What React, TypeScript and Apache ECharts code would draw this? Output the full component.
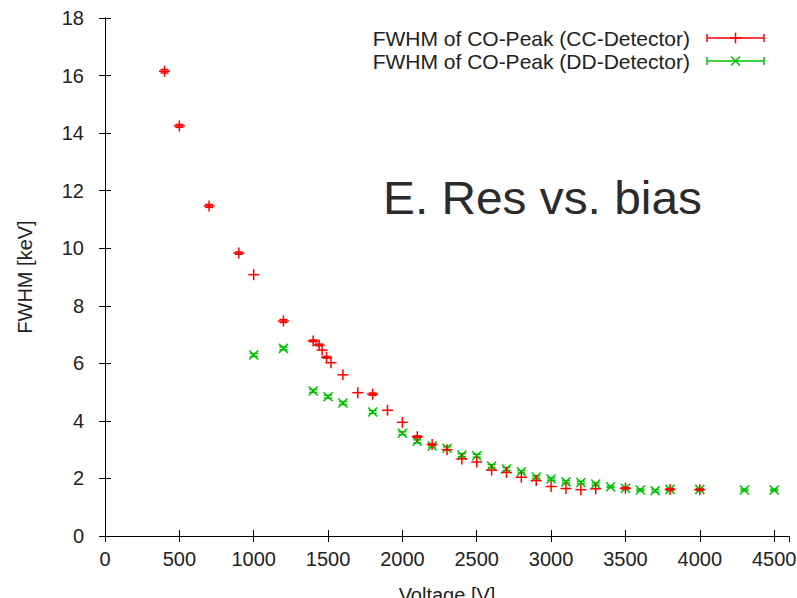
import React, { useEffect, useRef } from "react";
import * as echarts from "echarts";

const xTicks = [0, 500, 1000, 1500, 2000, 2500, 3000, 3500, 4000, 4500];
const yTicks = [0, 2, 4, 6, 8, 10, 12, 14, 16, 18];

const ccName = "FWHM of CO-Peak (CC-Detector)";
const ddName = "FWHM of CO-Peak (DD-Detector)";
const titleText = "E. Res vs. bias";

const ccVoltage = [400, 500, 700, 900, 1000, 1200, 1400, 1440, 1460, 1490, 1520, 1600, 1700, 1800, 1900, 2000, 2100, 2200, 2300, 2400, 2500, 2600, 2700, 2800, 2900, 3000, 3100, 3200, 3300, 3500, 3800, 4000];
const ccFwhm = [16.15, 14.25, 11.47, 9.83, 9.08, 7.47, 6.78, 6.64, 6.46, 6.21, 6.02, 5.6, 4.98, 4.93, 4.37, 3.95, 3.45, 3.18, 3.0, 2.68, 2.57, 2.29, 2.21, 2.04, 1.93, 1.72, 1.65, 1.61, 1.64, 1.66, 1.62, 1.61];
const ccErr = [0.06, 0.05, 0.05, 0.04, 0, 0.05, 0.03, 0.03, 0, 0.03, 0, 0, 0, 0.04, 0, 0, 0.03, 0.02, 0, 0, 0, 0, 0, 0, 0, 0, 0, 0, 0, 0.02, 0.02, 0.02];

const ddVoltage = [1000, 1200, 1400, 1500, 1600, 1800, 2000, 2100, 2200, 2300, 2400, 2500, 2600, 2700, 2800, 2900, 3000, 3100, 3200, 3300, 3400, 3500, 3600, 3700, 3800, 4000, 4300, 4500];
const ddFwhm = [6.29, 6.52, 5.04, 4.84, 4.62, 4.31, 3.57, 3.29, 3.13, 3.05, 2.81, 2.79, 2.43, 2.33, 2.23, 2.05, 1.98, 1.88, 1.86, 1.81, 1.71, 1.66, 1.6, 1.57, 1.62, 1.62, 1.6, 1.6];
const ddErr = [0.05, 0.05, 0.05, 0.05, 0.05, 0.05, 0.05, 0.05, 0.04, 0.05, 0.05, 0.05, 0.05, 0.05, 0.04, 0.04, 0.04, 0.04, 0.04, 0.04, 0.03, 0.03, 0.03, 0.04, 0.03, 0.03, 0.03, 0.03];

const RED = "#ff0000";
const GREEN = "#00c000";
const FONT = '"Liberation Sans", Arial, sans-serif';

function markerLines(shape: string, cx: number, cy: number, color: string) {
  const s = { stroke: color, lineWidth: 1.5 };
  if (shape === "plus") {
    const h = 5.5;
    return [
      { type: "line", shape: { x1: cx - h, y1: cy, x2: cx + h, y2: cy }, style: s },
      { type: "line", shape: { x1: cx, y1: cy - h, x2: cx, y2: cy + h }, style: s },
    ];
  }
  const h = 4.5;
  return [
    { type: "line", shape: { x1: cx - h, y1: cy - h, x2: cx + h, y2: cy + h }, style: s },
    { type: "line", shape: { x1: cx - h, y1: cy + h, x2: cx + h, y2: cy - h }, style: s },
  ];
}

function makeRender(shape: string, color: string) {
  return (params: any, api: any) => {
    const x = api.value(0);
    const y = api.value(1);
    const e = api.value(2);
    const c = api.coord([x, y]);
    const children: any[] = [];
    const s = { stroke: color, lineWidth: 1.5 };
    if (e > 0) {
      const t = api.coord([x, y + e]);
      const b = api.coord([x, y - e]);
      const w = 4;
      children.push({ type: "line", shape: { x1: t[0], y1: t[1], x2: b[0], y2: b[1] }, style: s });
      children.push({ type: "line", shape: { x1: t[0] - w, y1: t[1], x2: t[0] + w, y2: t[1] }, style: s });
      children.push({ type: "line", shape: { x1: b[0] - w, y1: b[1], x2: b[0] + w, y2: b[1] }, style: s });
    }
    children.push(...markerLines(shape, c[0], c[1], color));
    return { type: "group", children };
  };
}

function legendRow(label: string, y: number, shape: string, color: string) {
  const x1 = 707;
  const x2 = 764;
  const s = { stroke: color, lineWidth: 1.5 };
  return [
    {
      type: "text",
      x: 690,
      y,
      style: { text: label, fill: "#222", font: `21px ${FONT}`, textAlign: "right", textVerticalAlign: "middle" },
    },
    { type: "line", shape: { x1, y1: y, x2, y2: y }, style: s },
    { type: "line", shape: { x1, y1: y - 4, x2: x1, y2: y + 4 }, style: s },
    { type: "line", shape: { x1: x2, y1: y - 4, x2, y2: y + 4 }, style: s },
    ...markerLines(shape, (x1 + x2) / 2, y, color),
  ];
}

export default function App() {
  const ref = useRef<HTMLDivElement>(null);
  useEffect(() => {
    if (!ref.current) return;
    const chart = echarts.init(ref.current, null, { renderer: "svg", width: 797, height: 598 });
    const axisCommon = {
      type: "value",
      axisLine: { show: true, lineStyle: { color: "#000", width: 1 } },
      axisTick: { show: true, inside: true, length: 6, lineStyle: { color: "#000", width: 1 } },
      splitLine: { show: false },
    };
    const fmt = (v: number) => String(v);
    const ccData = ccVoltage.map((v, i) => [v, ccFwhm[i], ccErr[i]]);
    const ddData = ddVoltage.map((v, i) => [v, ddFwhm[i], ddErr[i]]);
    chart.setOption({
      animation: false,
      backgroundColor: "#fff",
      textStyle: { fontFamily: FONT },
      grid: { left: 105, top: 18, width: 684, height: 518, containLabel: false, outerBoundsMode: "none" },
      xAxis: [
        {
          ...axisCommon,
          position: "bottom",
          min: xTicks[0],
          max: 4600,
          interval: 500,
          axisLabel: { fontSize: 20, color: "#222", margin: 13, showMaxLabel: false, fontFamily: FONT, formatter: fmt },
          name: "Voltage [V]",
          nameLocation: "middle",
          nameGap: 59,
          nameTextStyle: { fontSize: 20, color: "#222", fontFamily: FONT, verticalAlign: "middle" },
        },
        {
          ...axisCommon,
          position: "top",
          min: xTicks[0],
          max: 4600,
          interval: 500,
          axisLabel: { show: false },
        },
      ],
      yAxis: [
        {
          ...axisCommon,
          position: "left",
          min: yTicks[0],
          max: yTicks[yTicks.length - 1],
          interval: 2,
          axisLabel: { fontSize: 20, color: "#222", margin: 21, fontFamily: FONT, formatter: fmt },
          name: "FWHM [keV]",
          nameLocation: "middle",
          nameGap: 80,
          nameTextStyle: { fontSize: 20, color: "#222", fontFamily: FONT, verticalAlign: "middle" },
        },
        {
          ...axisCommon,
          position: "right",
          min: yTicks[0],
          max: yTicks[yTicks.length - 1],
          interval: 2,
          axisLabel: { show: false },
        },
      ],
      series: [
        {
          name: ccName,
          type: "custom",
          xAxisIndex: 0,
          yAxisIndex: 0,
          renderItem: makeRender("plus", RED),
          encode: { x: 0, y: 1 },
          data: ccData,
          z: 3,
        },
        {
          name: ddName,
          type: "custom",
          xAxisIndex: 0,
          yAxisIndex: 0,
          renderItem: makeRender("cross", GREEN),
          encode: { x: 0, y: 1 },
          data: ddData,
          z: 2,
        },
      ],
      graphic: [
        ...legendRow(ccName, 38, "plus", RED),
        ...legendRow(ddName, 61, "cross", GREEN),
        {
          type: "text",
          x: 383,
          y: 175,
          scaleX: 1.04,
          style: { text: titleText, fill: "#2b2b2b", font: `46px ${FONT}`, textAlign: "left", textVerticalAlign: "alphabetic" },
        },
      ],
    });
    return () => chart.dispose();
  }, []);
  return <div ref={ref} style={{ position: "fixed", left: 0, top: 0, width: 797, height: 598 }} />;
}
